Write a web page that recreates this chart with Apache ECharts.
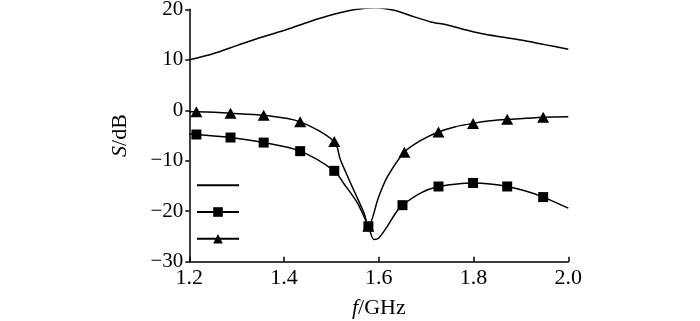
<!DOCTYPE html>
<html>
<head>
<meta charset="utf-8">
<script src="https://cdn.jsdelivr.net/npm/echarts@6/dist/echarts.min.js"></script>
<style>html,body{margin:0;padding:0;background:#fff;}#c{width:700px;height:321px;}</style>
</head>
<body>
<div id="c"></div>
<script>
// Axis ticks
var xTicks = [1.2, 1.4, 1.6, 1.8, 2.0];
var yTicks = [-30, -20, -10, 0, 10, 20];

// Plain line (no markers): [f, S]
var plainCurve = [[1.2,10.0],[1.25,11.2],[1.30,12.8],[1.35,14.4],[1.406,16.0],[1.455,17.6],[1.505,19.0],[1.547,19.9],[1.593,20.3],[1.632,19.8],[1.675,18.5],[1.71,17.5],[1.745,16.9],[1.78,16.0],[1.816,15.2],[1.86,14.5],[1.90,13.9],[1.95,13.0],[2.0,12.1]];

// Square-marker series: marker points and extra curve-only points
var squareMarks = [[1.215,-4.8],[1.287,-5.4],[1.357,-6.4],[1.434,-8.1],[1.506,-12.0],[1.578,-23.0],[1.650,-18.8],[1.726,-15.1],[1.799,-14.4],[1.871,-15.1],[1.947,-17.2]];
var squareExtra = [[1.2,-4.7],[1.526,-14.5],[1.555,-18.4],[1.590,-25.6],[1.600,-25.3],[1.618,-23.0],[1.636,-20.3],[1.69,-16.3],[1.765,-14.6],[1.835,-14.6],[1.91,-16.0],[2.0,-19.4]];

// Triangle-marker series
var triangleMarks = [[1.215,-0.3],[1.287,-0.6],[1.357,-1.0],[1.434,-2.3],[1.506,-6.2],[1.578,-23.0],[1.654,-8.3],[1.726,-4.3],[1.799,-2.6],[1.871,-1.8],[1.947,-1.4]];
var triangleExtra = [[1.2,-0.3],[1.519,-9.8],[1.547,-15.8],[1.569,-20.4],[1.600,-17.1],[1.618,-13.2],[1.69,-5.9],[1.76,-3.3],[1.835,-2.1],[1.91,-1.6],[2.0,-1.3]];

function merge(marks, extra) {
  var all = marks.map(function(p){ return {value: p, m: true}; })
    .concat(extra.map(function(p){ return {value: p, m: false}; }));
  all.sort(function(a,b){ return a.value[0]-b.value[0]; });
  return all.map(function(d){
    var o = {value: d.value};
    if (!d.m) o.symbol = 'none';
    return o;
  });
}

var font = '"Liberation Serif","Times New Roman",serif';
var chart = echarts.init(document.getElementById('c'), null, {renderer: 'canvas'});
var lineStyle = {color: '#000', width: 1.5};
chart.setOption({
  animation: false,
  backgroundColor: '#fff',
  grid: {left: 189.3, right: 131.7, top: 9.3, bottom: 59.3, containLabel: false, outerBoundsMode: 'none'},
  legend: {
    data: [{name: ' ', itemStyle: {opacity: 0}}, {name: '  '}, {name: '   '}],
    orient: 'vertical',
    left: 191,
    top: 175.4,
    padding: 5,
    itemWidth: 42,
    itemHeight: 12,
    itemGap: 17.2,
    textStyle: {fontSize: 1, color: '#fff'},
    selectedMode: false
  },
  xAxis: {
    type: 'value', min: xTicks[0], max: xTicks[xTicks.length-1], interval: 0.2,
    name: '{i|f}/GHz', nameLocation: 'middle', nameGap: 36,
    nameTextStyle: {fontFamily: font, fontSize: 22, color: '#000',
      rich: {i: {fontFamily: font, fontStyle: 'italic', fontSize: 22, color: '#000'}}},
    axisLine: {onZero: false, lineStyle: {color: '#000', width: 1.5}},
    axisTick: {inside: true, length: 5, lineStyle: {color: '#000', width: 1.5}},
    axisLabel: {margin: 6, fontFamily: font, fontSize: 22, color: '#000',
      formatter: function(v){ return v.toFixed(1); }},
    splitLine: {show: false}
  },
  yAxis: {
    type: 'value', min: yTicks[0], max: yTicks[yTicks.length-1], interval: 10,
    name: '{i|S}/dB', nameLocation: 'middle', nameGap: 58,
    nameTextStyle: {fontFamily: font, fontSize: 22, color: '#000',
      rich: {i: {fontFamily: font, fontStyle: 'italic', fontSize: 22, color: '#000'}}},
    axisLine: {onZero: false, lineStyle: {color: '#000', width: 1.5}},
    axisTick: {inside: false, length: 4, lineStyle: {color: '#000', width: 1.5}},
    axisLabel: {margin: 6, fontFamily: font, fontSize: 21, color: '#000',
      formatter: function(v){ return String(v).replace('-', '\u2212'); }},
    splitLine: {show: false}
  },
  series: [
    {name: ' ', type: 'line', data: plainCurve, smooth: 0.3,
      symbol: 'none', lineStyle: lineStyle, itemStyle: {color: '#000'}},
    {name: '  ', type: 'line', data: merge(squareMarks, squareExtra), smooth: 0.3,
      symbol: 'rect', symbolSize: 10, showAllSymbol: true, lineStyle: lineStyle, itemStyle: {color: '#000'}},
    {name: '   ', type: 'line', data: merge(triangleMarks, triangleExtra), smooth: 0.3,
      symbol: 'triangle', symbolSize: [12, 11], showAllSymbol: true, lineStyle: lineStyle, itemStyle: {color: '#000'}}
  ]
});
</script>
</body>
</html>
